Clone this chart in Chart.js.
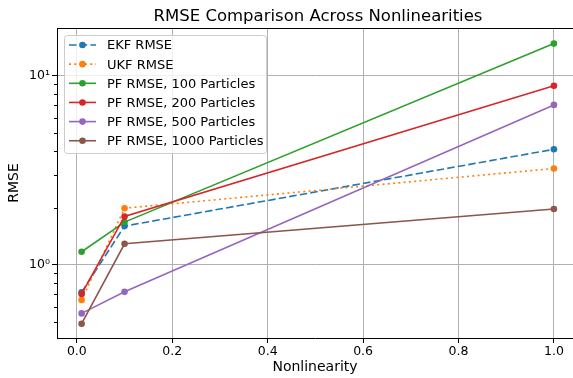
<!DOCTYPE html>
<html>
<head>
<meta charset="utf-8">
<script src="https://cdn.jsdelivr.net/npm/chart.js@4.4.1/dist/chart.umd.min.js"></script>
<style>
  html, body { margin: 0; padding: 0; background: #fff; }
</style>
</head>
<body>
<canvas id="rmseChart" width="573" height="378"></canvas>
<script>
// values
const nonlinearity = [0.01, 0.1, 1.0];
const ekfRmse = [0.715, 1.60, 4.08];
const ukfRmse = [0.65, 1.99, 3.23];
const pf100Rmse = [1.17, 1.68, 14.8];
const pf200Rmse = [0.70, 1.80, 8.86];
const pf500Rmse = [0.552, 0.718, 7.01];
const pf1000Rmse = [0.487, 1.29, 1.97];

const seriesLabels = ['EKF RMSE', 'UKF RMSE', 'PF RMSE, 100 Particles', 'PF RMSE, 200 Particles', 'PF RMSE, 500 Particles', 'PF RMSE, 1000 Particles'];
const xTicks = [0, 0.2, 0.4, 0.6, 0.8, 1.0];
const yMajorTicks = [1, 10];
const yTickLabels = ['10⁰', '10¹'];
const yMinorTicks = [0.5, 0.6, 0.7, 0.8, 0.9, 2, 3, 4, 5, 6, 7, 8, 9];

const FONT = "'DejaVu Sans', sans-serif";
const colors = ['#1f77b4', '#ff7f0e', '#2ca02c', '#d62728', '#9467bd', '#8c564b'];
const dashes = [[7.5, 3.2], [2, 3.3], [], [], [], []];
const allSeries = [ekfRmse, ukfRmse, pf100Rmse, pf200Rmse, pf500Rmse, pf1000Rmse];

const datasets = allSeries.map((vals, i) => ({
  label: seriesLabels[i],
  data: nonlinearity.map((x, j) => ({ x: x, y: vals[j] })),
  borderColor: colors[i],
  backgroundColor: colors[i],
  borderWidth: 1.6,
  borderDash: dashes[i],
  pointRadius: 3.3,
  pointBorderWidth: 0,
  pointBackgroundColor: colors[i],
  tension: 0,
  order: allSeries.length - i // later series on top, like matplotlib
}));

// spines, minor ticks, title and legend
const decorPlugin = {
  id: 'decor',
  afterDraw(chart) {
    const ctx = chart.ctx;
    const area = chart.chartArea;
    const yScale = chart.scales.y;
    ctx.save();
    // top spine
    ctx.strokeStyle = '#000';
    ctx.lineWidth = 1;
    ctx.beginPath();
    ctx.moveTo(area.left, Math.round(area.top) + 0.5);
    ctx.lineTo(chart.width, Math.round(area.top) + 0.5);
    ctx.stroke();
    // minor ticks on the log axis
    yMinorTicks.forEach(v => {
      const y = Math.round(yScale.getPixelForValue(v)) + 0.5;
      ctx.beginPath();
      ctx.moveTo(area.left - 3, y);
      ctx.lineTo(area.left, y);
      ctx.stroke();
    });
    // title
    ctx.fillStyle = '#000';
    ctx.font = '16.5px ' + FONT;
    ctx.textAlign = 'center';
    ctx.textBaseline = 'middle';
    ctx.fillText('RMSE Comparison Across Nonlinearities', 318, 17);
    // legend
    const bx = 64.5, by = 35.5, bw = 202, bh = 118;
    ctx.beginPath();
    ctx.roundRect(bx, by, bw, bh, 3);
    ctx.fillStyle = 'rgba(255,255,255,0.8)';
    ctx.fill();
    ctx.strokeStyle = '#cccccc';
    ctx.stroke();
    ctx.font = '13px ' + FONT;
    ctx.textAlign = 'left';
    chart.data.datasets.forEach((ds, i) => {
      const y = 45 + i * 19.15;
      ctx.strokeStyle = ds.borderColor;
      ctx.lineWidth = ds.borderWidth;
      ctx.setLineDash(ds.borderDash);
      ctx.beginPath();
      ctx.moveTo(69, y);
      ctx.lineTo(96, y);
      ctx.stroke();
      ctx.setLineDash([]);
      ctx.fillStyle = ds.pointBackgroundColor;
      ctx.beginPath();
      ctx.arc(82.5, y, 3.3, 0, Math.PI * 2);
      ctx.fill();
      ctx.fillStyle = '#000';
      ctx.fillText(ds.label, 107, y + 1);
    });
    ctx.restore();
  }
};

new Chart(document.getElementById('rmseChart'), {
  type: 'line',
  data: { datasets: datasets },
  options: {
    responsive: false,
    animation: false,
    devicePixelRatio: 1,
    layout: { autoPadding: false, padding: { top: 28, left: 0, right: 0, bottom: 0 } },
    plugins: {
      legend: { display: false },
      title: { display: false },
      tooltip: { enabled: false }
    },
    scales: {
      x: {
        type: 'linear',
        min: -0.0416,
        max: 1.04,
        afterBuildTicks: s => { s.ticks = xTicks.map(v => ({ value: v })); },
        afterFit: s => { s.height = 40; s.paddingLeft = 0; s.paddingRight = 0; },
        ticks: {
          callback: v => Number(v).toFixed(1),
          font: { family: FONT, size: 12.5 },
          color: '#000',
          padding: 1,
          maxRotation: 0,
          autoSkip: false
        },
        grid: { color: '#b0b0b0', lineWidth: 1, tickColor: '#000', tickLength: 5 },
        border: { color: '#000', width: 1 },
        title: {
          display: true,
          text: 'Nonlinearity',
          font: { family: FONT, size: 14 },
          color: '#000',
          padding: { top: 0, bottom: 2 }
        }
      },
      y: {
        type: 'logarithmic',
        min: 0.409,
        max: 17.9,
        afterBuildTicks: s => { s.ticks = yMajorTicks.map(v => ({ value: v, major: true })); },
        afterFit: s => { s.width = 57; s.paddingTop = 0; s.paddingBottom = 0; },
        ticks: {
          callback: v => {
            const k = yMajorTicks.indexOf(Number(v));
            return k >= 0 ? yTickLabels[k] : '';
          },
          font: { family: FONT, size: 12.5 },
          color: '#000',
          padding: 2,
          autoSkip: false
        },
        grid: { color: '#b0b0b0', lineWidth: 1, tickColor: '#000', tickLength: 5 },
        border: { color: '#000', width: 1 },
        title: {
          display: true,
          text: 'RMSE',
          font: { family: FONT, size: 14 },
          color: '#000',
          padding: { top: 6, bottom: 0 }
        }
      }
    }
  },
  plugins: [decorPlugin]
});
</script>
</body>
</html>
